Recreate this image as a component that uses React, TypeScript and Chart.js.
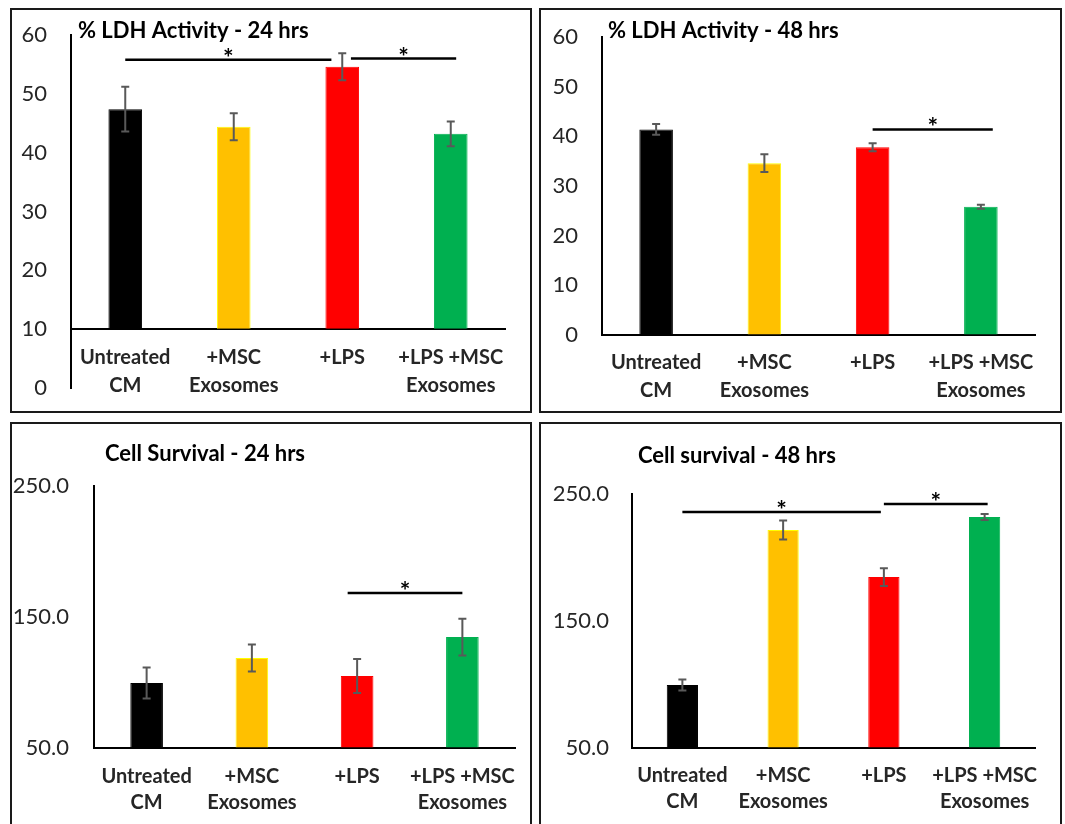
import React, { useEffect, useRef } from "react";
import { Chart, registerables } from "chart.js";
Chart.register(...registerables);

const FONT = "Lato";

// ---- data ----
const categories: string[][] = [["Untreated", "CM"], ["+MSC", "Exosomes"], ["+LPS"], ["+LPS +MSC", "Exosomes"]];
const barColors = ["#000000", "#FFC000", "#FF0000", "#00B050"];
const barBorders = ["#000000", "#FFFF00", "#FF0000", "#00B050"];

const ldh24Values = [47.4, 44.4, 54.6, 43.2];
const ldh24Errors = [3.8, 2.3, 2.3, 2.1];
const ldh24Sig = [
  { from: 0, to: 1.9, y: 55.8 },
  { from: 2.08, to: 3.05, y: 56.0 },
];

const ldh48Values = [41.4, 34.6, 37.8, 25.8];
const ldh48Errors = [1.1, 1.8, 0.8, 0.4];
const ldh48Sig = [{ from: 2.0, to: 3.11, y: 41.4 }];

const surv24Values = [99.6, 118.7, 105.0, 134.7];
const surv24Errors = [11.8, 10.3, 13.0, 14.0];
const surv24Sig = [{ from: 1.91, to: 3.0, y: 168.3 }];

const surv48Values = [99.6, 221.7, 184.6, 231.9];
const surv48Errors = [4.3, 7.5, 7.0, 2.4];
const surv48Sig = [
  { from: 0, to: 1.97, y: 235.8 },
  { from: 2.0, to: 3.03, y: 242.1 },
];

type Sig = { from: number; to: number; y: number };
type Panel = {
  title: string;
  values: number[];
  errors: number[];
  sig: Sig[];
  yMin: number;
  yMax: number;
  step: number;
  base: number;
  decimals: number;
  rect: { left: number; top: number; width: number; height: number; noBottom?: boolean };
  plot: { left: number; top: number; right: number; bottom: number };
  tickPad: number;
  xPad: number;
  lineHeight: number;
  titlePos: { x: number; y: number };
};

const panels: Panel[] = [
  {
    title: "% LDH Activity - 24 hrs",
    values: ldh24Values, errors: ldh24Errors, sig: ldh24Sig,
    yMin: 0, yMax: 60, step: 10, base: 10, decimals: 0,
    rect: { left: 10, top: 8, width: 522, height: 405 },
    plot: { left: 61, top: 27, right: 495, bottom: 380 },
    tickPad: 24, xPad: 14, lineHeight: 28,
    titlePos: { x: 68, y: 30 },
  },
  {
    title: "% LDH Activity - 48 hrs",
    values: ldh48Values, errors: ldh48Errors, sig: ldh48Sig,
    yMin: 0, yMax: 60, step: 10, base: 0, decimals: 0,
    rect: { left: 539, top: 8, width: 523, height: 405 },
    plot: { left: 63, top: 29, right: 496, bottom: 327 },
    tickPad: 24, xPad: 14, lineHeight: 28,
    titlePos: { x: 69, y: 30 },
  },
  {
    title: "Cell Survival - 24 hrs",
    values: surv24Values, errors: surv24Errors, sig: surv24Sig,
    yMin: 50, yMax: 250, step: 100, base: 50, decimals: 1,
    rect: { left: 10, top: 422, width: 522, height: 402, noBottom: true },
    plot: { left: 84, top: 64, right: 505, bottom: 326 },
    tickPad: 25, xPad: 16, lineHeight: 26,
    titlePos: { x: 95, y: 39 },
  },
  {
    title: "Cell survival - 48 hrs",
    values: surv48Values, errors: surv48Errors, sig: surv48Sig,
    yMin: 50, yMax: 250, step: 100, base: 50, decimals: 1,
    rect: { left: 539, top: 422, width: 523, height: 402, noBottom: true },
    plot: { left: 93, top: 72, right: 496, bottom: 326 },
    tickPad: 23, xPad: 15, lineHeight: 26,
    titlePos: { x: 99, y: 41 },
  },
];

function decorPlugin(p: Panel) {
  return {
    id: "decor",
    afterDatasetsDraw(chart: any) {
      const ctx = chart.ctx as CanvasRenderingContext2D;
      const xs = chart.scales.x;
      const ys = chart.scales.y;
      const meta = chart.getDatasetMeta(0);
      ctx.save();
      // error bars
      ctx.strokeStyle = "#595959";
      ctx.lineWidth = 2;
      meta.data.forEach((bar: any, i: number) => {
        const v = p.values[i];
        const e = p.errors[i];
        const yt = ys.getPixelForValue(v + e);
        const yb = ys.getPixelForValue(v - e);
        const cx = bar.x;
        ctx.beginPath();
        ctx.moveTo(cx, yt);
        ctx.lineTo(cx, yb);
        ctx.moveTo(cx - 4, yt);
        ctx.lineTo(cx + 4, yt);
        ctx.moveTo(cx - 4, yb);
        ctx.lineTo(cx + 4, yb);
        ctx.stroke();
      });
      // significance lines
      ctx.strokeStyle = "#000";
      ctx.lineWidth = 2.5;
      ctx.fillStyle = "#000";
      ctx.font = `bold 25px ${FONT}`;
      ctx.textAlign = "center";
      ctx.textBaseline = "alphabetic";
      p.sig.forEach((s) => {
        const x1 = xs.getPixelForValue(s.from);
        const x2 = xs.getPixelForValue(s.to);
        const yy = ys.getPixelForValue(s.y);
        ctx.beginPath();
        ctx.moveTo(x1, yy);
        ctx.lineTo(x2, yy);
        ctx.stroke();
        ctx.fillText("*", (x1 + x2) / 2, yy + 7);
      });
      // title
      ctx.font = `bold 22px ${FONT}`;
      ctx.textAlign = "left";
      ctx.fillStyle = "#000";
      ctx.fillText(p.title, p.titlePos.x, p.titlePos.y);
      ctx.restore();
    },
  };
}

function PanelChart({ p }: { p: Panel }) {
  const ref = useRef<HTMLCanvasElement>(null);
  useEffect(() => {
    if (!ref.current) return;
    const { width, height } = p.rect;
    const chart = new Chart(ref.current, {
      type: "bar",
      data: {
        labels: categories as any,
        datasets: [
          {
            data: p.values,
            backgroundColor: barColors,
            borderColor: barBorders,
            borderWidth: 1,
            base: p.base,
            barPercentage: 0.31,
            categoryPercentage: 1,
          } as any,
        ],
      },
      options: {
        responsive: false,
        animation: false,
        devicePixelRatio: 1,
        layout: {
          padding: {
            left: 0,
            top: p.plot.top,
            right: width - p.plot.right,
            bottom: height - p.plot.bottom,
          },
        },
        plugins: { legend: { display: false }, tooltip: { enabled: false }, title: { display: false } },
        scales: {
          x: {
            type: "category",
            position: { y: p.base } as any,
            offset: true,
            grid: {
              display: true,
              drawOnChartArea: false,
              drawTicks: true,
              tickLength: p.xPad,
              tickColor: "rgba(0,0,0,0)",
            },
            border: { display: true, color: "#000", width: 2 },
            ticks: {
              padding: 0,
              color: "#262626",
              maxRotation: 0,
              minRotation: 0,
              autoSkip: false,
              font: { family: FONT, size: 20, weight: "bold", lineHeight: `${p.lineHeight}px` } as any,
            },
          },
          y: {
            min: p.yMin,
            max: p.yMax,
            grid: {
              display: true,
              drawOnChartArea: false,
              drawTicks: true,
              tickLength: p.tickPad,
              tickColor: "rgba(0,0,0,0)",
            },
            border: { display: true, color: "#000", width: 2 },
            ticks: {
              stepSize: p.step,
              padding: 0,
              color: "#262626",
              font: { family: FONT, size: 22 },
              callback: (v: any) => Number(v).toFixed(p.decimals),
            },
            afterFit: (s: any) => {
              s.width = p.plot.left;
            },
          },
        },
      },
      plugins: [decorPlugin(p)],
    });
    return () => chart.destroy();
  }, [p]);
  return (
    <canvas
      ref={ref}
      width={p.rect.width}
      height={p.rect.height}
      style={{
        position: "absolute",
        left: p.rect.left,
        top: p.rect.top,
        width: p.rect.width,
        height: p.rect.height,
      }}
    />
  );
}

export default function App() {
  return (
    <div
      style={{
        position: "absolute",
        left: 0,
        top: 0,
        width: 1065,
        height: 824,
        overflow: "hidden",
        background: "#fff",
      }}
    >
      {panels.map((p, i) => (
        <PanelChart key={"c" + i} p={p} />
      ))}
      {panels.map((p, i) => (
        <div
          key={"b" + i}
          style={{
            position: "absolute",
            left: p.rect.left,
            top: p.rect.top,
            width: p.rect.width,
            height: p.rect.height,
            boxSizing: "border-box",
            border: "2px solid #1a1a1a",
            borderBottom: p.rect.noBottom ? "none" : "2px solid #1a1a1a",
            pointerEvents: "none",
          }}
        />
      ))}
    </div>
  );
}
